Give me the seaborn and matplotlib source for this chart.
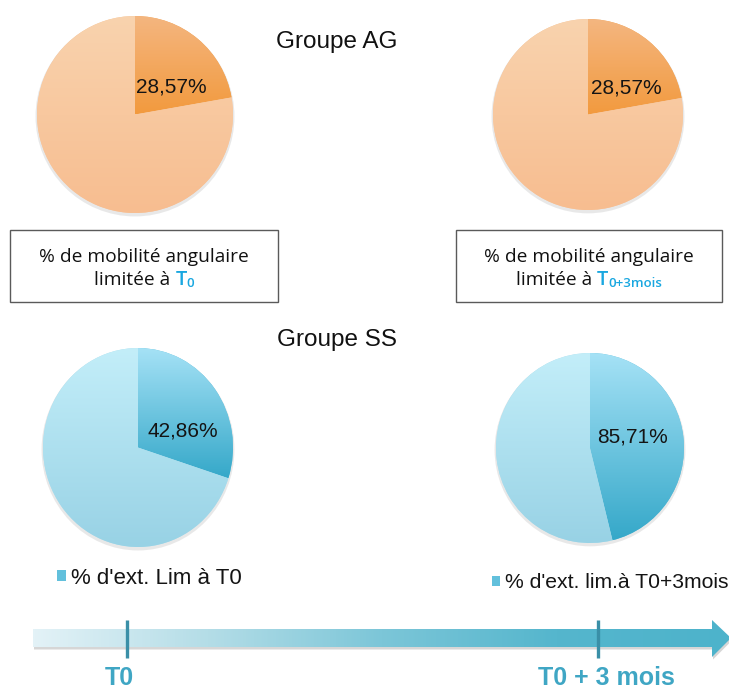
import numpy as np
import matplotlib
matplotlib.use("Agg")
import matplotlib.pyplot as plt
import seaborn as sns
from matplotlib.patches import Rectangle, Polygon, Ellipse

# ---------------- data ----------------
groups = ["Groupe AG", "Groupe SS"]
moments = ["T0", "T0+3mois"]
limited_ag = [2, 2]          # patients with limited mobility (AG) at T0, T0+3mois
limited_ss = [3, 6]          # patients with limited extension (SS) at T0, T0+3mois
n_patients = 7               # patients per group
box_line1 = "% de mobilité angulaire"
box_line2 = "limitée à"
box_subs = ["0", "0+3mois"]
legend_labels = ["% d'ext. Lim à T0", "% d'ext. lim.à T0+3mois"]
timeline_labels = ["T0", "T0 + 3 mois"]

# ---------------- style ----------------
sns.set_theme(style="white")
plt.rcParams["font.family"] = ["Liberation Sans", "DejaVu Sans"]

W, H = 729, 691
fig = plt.figure(figsize=(W / 100, H / 100), dpi=100)
bg = fig.add_axes([0, 0, 1, 1], zorder=-5)
bg.set_xlim(0, W)
bg.set_ylim(H, 0)
bg.axis("off")

PAD = 1.08  # axes limits in pie-radius units


def fig_rect(l, t, r, b):
    cx, cy = (l + r) / 2, (t + b) / 2
    hw, hh = (r - l) / 2 * PAD, (b - t) / 2 * PAD
    l, r, t, b = cx - hw, cx + hw, cy - hh, cy + hh
    return [l / W, 1 - b / H, (r - l) / W, (b - t) / H]


ORANGE = {"small": ("#F4B680", "#F29A3E", "#F3A658"),
          "big": ("#F9D3AE", "#F7BD90", "#F8C79E")}
BLUE = {"small": ("#A6E2F6", "#35A8C9", "#62C0DC"),
        "big": ("#C3EEF9", "#98D2E5", "#AFDFEE")}

pie_rects = [(37, 16, 233, 213), (493, 19, 683, 210),
             (43, 348, 233, 547), (496, 353, 684, 543)]
label_pos = [(0.37, 0.28), (0.40, 0.28), (0.47, 0.17), (0.45, 0.12)]


def fmt_pct(v):
    return f"{v:.2f}%".replace(".", ",")


def draw_pie(rect, lim, total, pal, lpos):
    ax = fig.add_axes(fig_rect(*rect))
    ax.add_patch(Ellipse((0.0, -0.02), 2.03, 2.03, color="#9a9a9a", alpha=0.22,
                         zorder=0, lw=0))
    wedges, texts, autotexts = ax.pie(
        [lim, total], startangle=90, counterclock=False,
        colors=[pal["small"][2], pal["big"][2]],
        autopct=lambda p: fmt_pct(lim / total * 100),
        pctdistance=0.5, radius=1,
        wedgeprops=dict(linewidth=0),
        textprops=dict(fontsize=15, color="#141414"))
    autotexts[1].set_visible(False)
    autotexts[0].set_position(lpos)
    for w, key in zip(wedges, ["small", "big"]):
        top, bot, _ = pal[key]
        ext = w.get_path().get_extents()
        cmap = sns.blend_palette([bot, top], as_cmap=True)
        grad = np.linspace(0, 1, 256).reshape(-1, 1)
        im = ax.imshow(grad, extent=(ext.x0, ext.x1, ext.y0, ext.y1),
                       origin="lower", cmap=cmap, aspect="auto",
                       zorder=w.get_zorder() + 0.1, interpolation="bilinear")
        im.set_clip_path(w)
    for t in autotexts:
        t.set_zorder(5)
    ax.set_aspect("auto")
    ax.set_xlim(-PAD, PAD)
    ax.set_ylim(-PAD, PAD)
    ax.axis("off")
    return ax, wedges


axes = []
for i, lim in enumerate(limited_ag):
    axes.append(draw_pie(pie_rects[i], lim, n_patients, ORANGE, label_pos[i]))
for i, lim in enumerate(limited_ss):
    axes.append(draw_pie(pie_rects[2 + i], lim, n_patients, BLUE, label_pos[2 + i]))

# group titles
bg.text(337, 42, groups[0], fontsize=17.5, ha="center", va="center", color="#111111")
bg.text(337, 340, groups[1], fontsize=17.5, ha="center", va="center", color="#111111")

# boxes with text
BOX_FONT = ["Open Sans", "DejaVu Sans"]
BLUE_TXT = "#19A7E0"
box_rects = [(10, 230, 278, 302), (456, 230, 722, 302)]
renderer = fig.canvas.get_renderer()
for (l, t, r, b), sub in zip(box_rects, box_subs):
    bg.add_patch(Rectangle((l, t), r - l, b - t, facecolor="white",
                           edgecolor="#5a5a5a", lw=1.0, zorder=1))
    xc = (l + r) / 2
    bg.text(xc, 262, box_line1, fontsize=13.8, family=BOX_FONT, ha="center",
            va="baseline", color="#111111", zorder=2)
    parts = [(box_line2, 13.8, "#111111", 0, 5.5, "normal"),
             ("T", 14.5, BLUE_TXT, 0, 0, "semibold"),
             (sub, 9.5, BLUE_TXT, 2, 0, "semibold")]
    arts, widths = [], []
    for s, size, col, dy, gap, fw in parts:
        a = bg.text(0, 285 + dy, s, fontsize=size, family=BOX_FONT, ha="left",
                    va="baseline", color=col, zorder=2, fontweight=fw)
        arts.append(a)
        widths.append(a.get_window_extent(renderer).width + gap)
    x = xc - sum(widths) / 2
    for a, w in zip(arts, widths):
        a.set_x(x)
        x += w

# legends (one per SS pie)
leg_anchor = [(57, 578), (492, 583)]
leg_size = [16, 15.2]
for (ax, wedges), lab, anc, fs in zip(axes[2:], legend_labels, leg_anchor, leg_size):
    leg = fig.legend([wedges[0]], [lab], loc="center left",
                     bbox_to_anchor=anc, bbox_transform=bg.transData,
                     frameon=False, fontsize=fs, handlelength=0.4,
                     handleheight=0.4, handletextpad=0.22, borderpad=0,
                     borderaxespad=0)
    for txt in leg.get_texts():
        txt.set_color("#141414")

# timeline arrow
x0, xh, xt = 33, 712, 731
ytop, ybot, yc = 629, 647, 638
hy0, hy1 = 620, 657
arrow_pts = [(x0, ytop), (xh, ytop), (xh, hy0), (xt, yc), (xh, hy1),
             (xh, ybot), (x0, ybot)]
shadow = Polygon([(px + 1, py + 2.5) for px, py in arrow_pts], closed=True,
                 facecolor="#8a8a8a", alpha=0.35, lw=0, zorder=1)
bg.add_patch(shadow)
arrow = Polygon(arrow_pts, closed=True, facecolor="none", lw=0, zorder=2)
bg.add_patch(arrow)
acmap = sns.blend_palette(["#E3F2F7", "#B4DDE7", "#7CC6D8", "#55B6CD", "#4DB3CB"],
                          as_cmap=True)
agrad = np.linspace(0, 1, 512).reshape(1, -1)
im = bg.imshow(agrad, extent=(x0, xt, hy1, hy0), cmap=acmap, aspect="auto",
               zorder=2, interpolation="bilinear")
im.set_clip_path(arrow)
bg.set_xlim(0, W)
bg.set_ylim(H, 0)

tick_x = [127, 598]
label_x = [119, 606]
for tx, lx, lab in zip(tick_x, label_x, timeline_labels):
    bg.plot([tx, tx], [620, 658], color="#3A8FA7", lw=2.4, zorder=3,
            solid_capstyle="butt")
    bg.text(lx, 678, lab, fontsize=18, fontweight="bold", color="#3FA6C4",
            ha="center", va="center")

fig.savefig("out.png", dpi=100)
